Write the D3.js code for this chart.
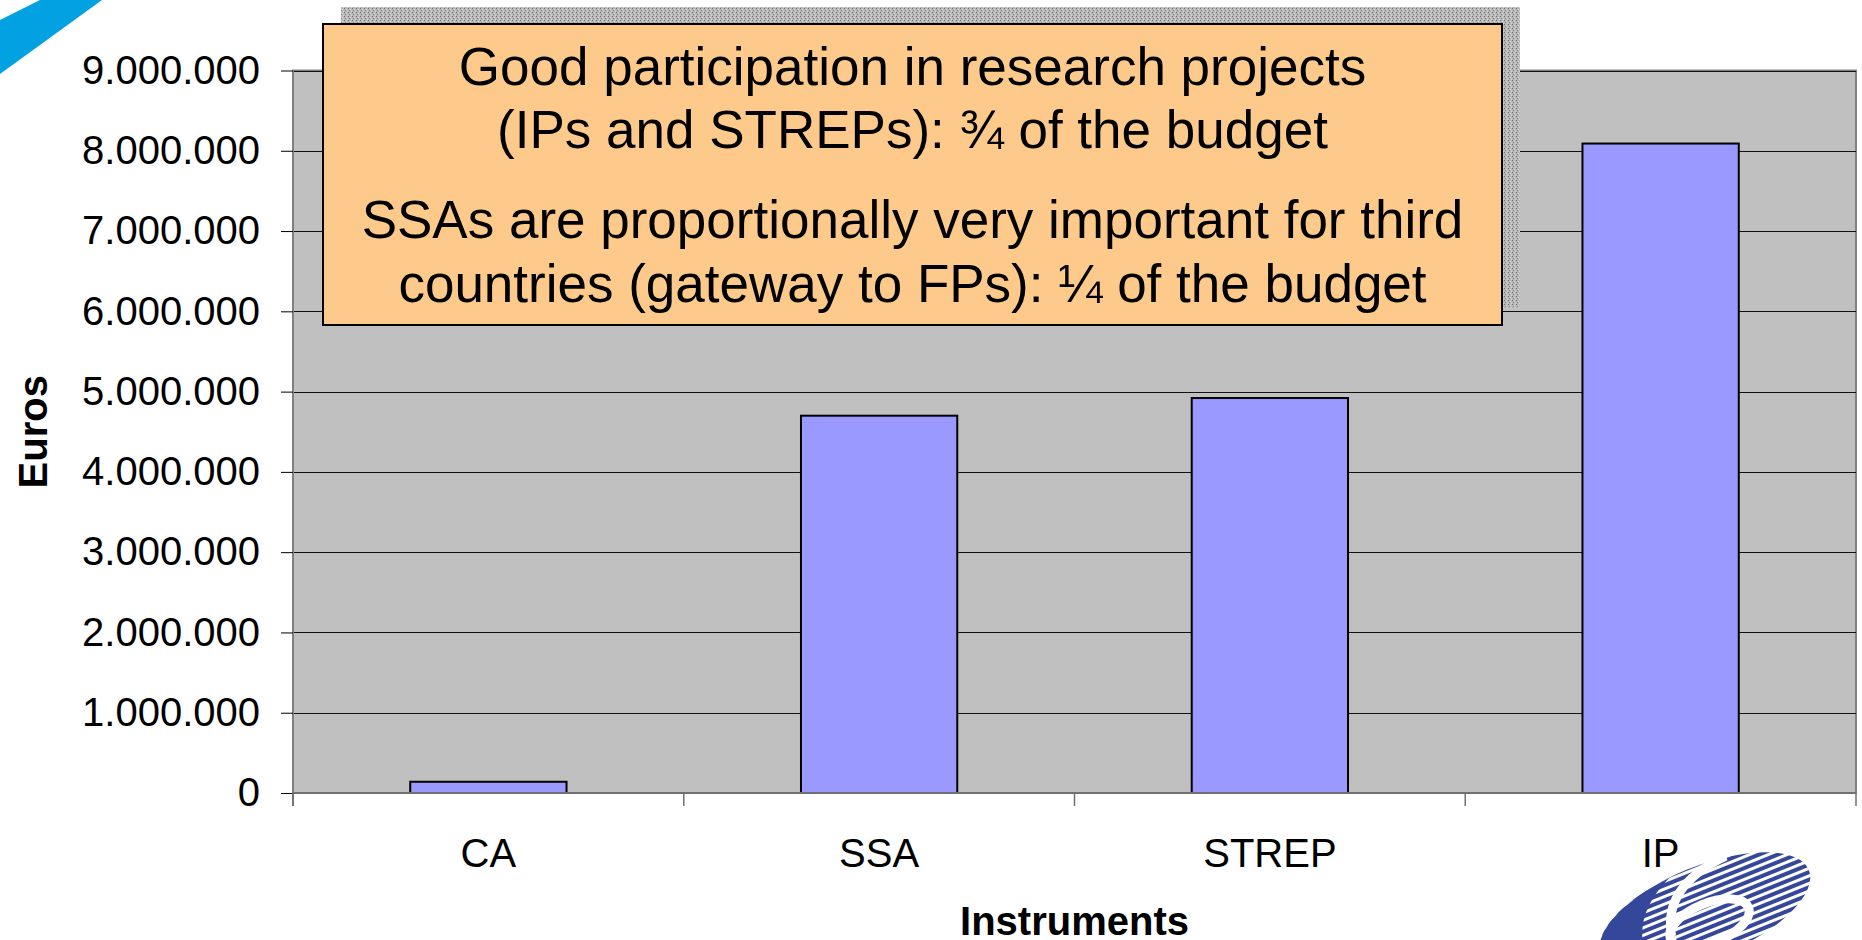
<!DOCTYPE html>
<html>
<head>
<meta charset="utf-8">
<script src="https://cdn.jsdelivr.net/npm/d3@7"></script>
<style>
  body { margin: 0; background: #fff; }
  svg { display: block; font-family: "Liberation Sans", Arial, sans-serif; }
</style>
</head>
<body>
<svg id="chart" width="1862" height="940"></svg>
<script>
// data
var categories = ["CA", "SSA", "STREP", "IP"];
var euros = [140000, 4700000, 4920000, 8090000];
var yTicks = [0, 1000000, 2000000, 3000000, 4000000, 5000000, 6000000, 7000000, 8000000, 9000000];
var noteLines1 = ["Good participation in research projects", "(IPs and STREPs): \u00be of the budget"];
var noteLines2 = ["SSAs are proportionally very important for third", "countries (gateway to FPs): \u00bc of the budget"];

var svg = d3.select("#chart");

// dotted "1.000.000" style numbers
var locale = d3.formatLocale({decimal: ",", thousands: ".", grouping: [3], currency: ["", "\u20ac"]});
var fmt = locale.format(",d");

var plotLeft = 293, plotRight = 1856, plotTop = 70.5, plotBottom = 793;

var x = d3.scaleBand().domain(categories).range([plotLeft, plotRight]).padding(0);
var y = d3.scaleLinear().domain([0, 9000000]).range([plotBottom, plotTop]);

// corner decoration, top left
svg.append("path")
    .attr("d", "M0,20 L40,0 L102,0 L0,74 Z")
    .attr("fill", "#02a1e2");

// plot background
svg.append("rect")
    .attr("x", plotLeft).attr("y", plotTop)
    .attr("width", plotRight - plotLeft).attr("height", plotBottom - plotTop)
    .attr("fill", "#c0c0c0")
    .attr("stroke", "#808080")
    .attr("stroke-width", 2);

// gridlines
svg.append("g")
    .attr("transform", "translate(" + plotLeft + ",0)")
    .call(d3.axisLeft(y).tickValues(yTicks.slice(1)).tickSize(-(plotRight - plotLeft)).tickFormat(""))
    .call(function (g) { g.select(".domain").remove(); })
    .selectAll("line")
    .attr("stroke", "#111")
    .attr("stroke-width", 1)
    .attr("shape-rendering", "crispEdges");

// bars
var bw = x.bandwidth() * 0.4;
svg.selectAll("rect.bar")
    .data(categories)
    .enter()
    .append("rect")
    .attr("class", "bar")
    .attr("x", function (d) { return x(d) + (x.bandwidth() - bw) / 2; })
    .attr("y", function (d, i) { return y(euros[i]); })
    .attr("width", bw)
    .attr("height", function (d, i) { return y(0) - y(euros[i]); })
    .attr("fill", "#9999ff")
    .attr("stroke", "#000")
    .attr("stroke-width", 2);

// y axis
var yAxis = svg.append("g")
    .attr("transform", "translate(" + plotLeft + ",0)")
    .call(d3.axisLeft(y).tickValues(yTicks).tickSize(12).tickPadding(21).tickFormat(fmt));
yAxis.select(".domain").attr("stroke", "#808080").attr("stroke-width", 2)
    .attr("d", "M0," + plotTop + "V" + (plotBottom + 13));
yAxis.selectAll("line").attr("stroke", "#000");
yAxis.selectAll("text")
    .attr("font-size", 40)
    .attr("font-family", "Liberation Sans, Arial, sans-serif")
    .attr("fill", "#000");

// x axis line and boundary ticks
svg.append("line")
    .attr("x1", plotLeft).attr("x2", plotRight)
    .attr("y1", plotBottom).attr("y2", plotBottom)
    .attr("stroke", "#707070").attr("stroke-width", 2);

var bounds = categories.map(function (c) { return x(c); }).concat([plotRight]);
svg.selectAll("line.xtick")
    .data(bounds)
    .enter()
    .append("line")
    .attr("class", "xtick")
    .attr("x1", function (d) { return d; })
    .attr("x2", function (d) { return d; })
    .attr("y1", plotBottom).attr("y2", plotBottom + 13)
    .attr("stroke", "#707070").attr("stroke-width", 1.5);

var xAxis = svg.append("g")
    .attr("transform", "translate(0," + plotBottom + ")")
    .call(d3.axisBottom(x).tickSize(0));
xAxis.select(".domain").remove();
xAxis.selectAll("text")
    .attr("y", 74).attr("dy", 0)
    .attr("font-size", 40)
    .attr("font-family", "Liberation Sans, Arial, sans-serif")
    .attr("fill", "#000");

// axis titles
svg.append("text")
    .attr("x", (plotLeft + plotRight) / 2).attr("y", 935)
    .attr("text-anchor", "middle")
    .attr("font-size", 40).attr("font-weight", "bold")
    .text("Instruments");

svg.append("text")
    .attr("transform", "translate(47," + ((plotTop + plotBottom) / 2) + ") rotate(-90)")
    .attr("text-anchor", "middle")
    .attr("font-size", 40).attr("font-weight", "bold")
    .text("Euros");

// annotation box with stippled shadow
var defs = svg.append("defs");
var dots = defs.append("pattern")
    .attr("id", "stipple")
    .attr("width", 4).attr("height", 4)
    .attr("patternUnits", "userSpaceOnUse");
dots.append("rect").attr("width", 4).attr("height", 4).attr("fill", "#b8b8b8");
dots.append("rect").attr("x", 0).attr("y", 0).attr("width", 1).attr("height", 1).attr("fill", "#707070");
dots.append("rect").attr("x", 2).attr("y", 1).attr("width", 1).attr("height", 1).attr("fill", "#e0e0e0");
dots.append("rect").attr("x", 1).attr("y", 2).attr("width", 1).attr("height", 1).attr("fill", "#808080");
dots.append("rect").attr("x", 3).attr("y", 3).attr("width", 1).attr("height", 1).attr("fill", "#d8d8d8");

var box = {x: 323, y: 24, w: 1179, h: 301};
svg.append("rect")
    .attr("x", box.x + 18).attr("y", box.y - 17)
    .attr("width", box.w).attr("height", box.h)
    .attr("fill", "url(#stipple)");
svg.append("rect")
    .attr("x", box.x).attr("y", box.y)
    .attr("width", box.w).attr("height", box.h)
    .attr("fill", "#fdca8c")
    .attr("stroke", "#000").attr("stroke-width", 2);

var note = svg.append("text")
    .attr("text-anchor", "middle")
    .attr("font-size", 53)
    .attr("fill", "#000");
noteLines1.forEach(function (t, i) {
    note.append("tspan").attr("x", box.x + box.w / 2).attr("y", 85 + i * 63).text(t);
});
noteLines2.forEach(function (t, i) {
    note.append("tspan").attr("x", box.x + box.w / 2).attr("y", 238 + i * 64).text(t);
});

// logo, bottom right (rough)
var stripes = defs.append("pattern")
    .attr("id", "stripes")
    .attr("width", 8).attr("height", 7)
    .attr("patternUnits", "userSpaceOnUse");
stripes.append("rect").attr("width", 8).attr("height", 7).attr("fill", "#ffffff");
stripes.append("rect").attr("width", 8).attr("height", 4).attr("fill", "#34479b");

var logo = svg.append("g").attr("transform", "translate(1705,912) rotate(-22)");
logo.append("ellipse")
    .attr("rx", 112).attr("ry", 46)
    .attr("fill", "url(#stripes)");
logo.append("path")
    .attr("d", "M-112,0 A112,46 0 0 1 -20,-45 Q-80,-20 -70,40 A112,46 0 0 1 -112,0 Z")
    .attr("fill", "#34479b");
logo.append("ellipse")
    .attr("cx", 0).attr("cy", 12)
    .attr("rx", 42).attr("ry", 20)
    .attr("fill", "none")
    .attr("stroke", "#fff").attr("stroke-width", 9);
logo.append("path")
    .attr("d", "M-40,10 Q-30,-40 40,-44")
    .attr("fill", "none")
    .attr("stroke", "#fff").attr("stroke-width", 9);
</script>
</body>
</html>
